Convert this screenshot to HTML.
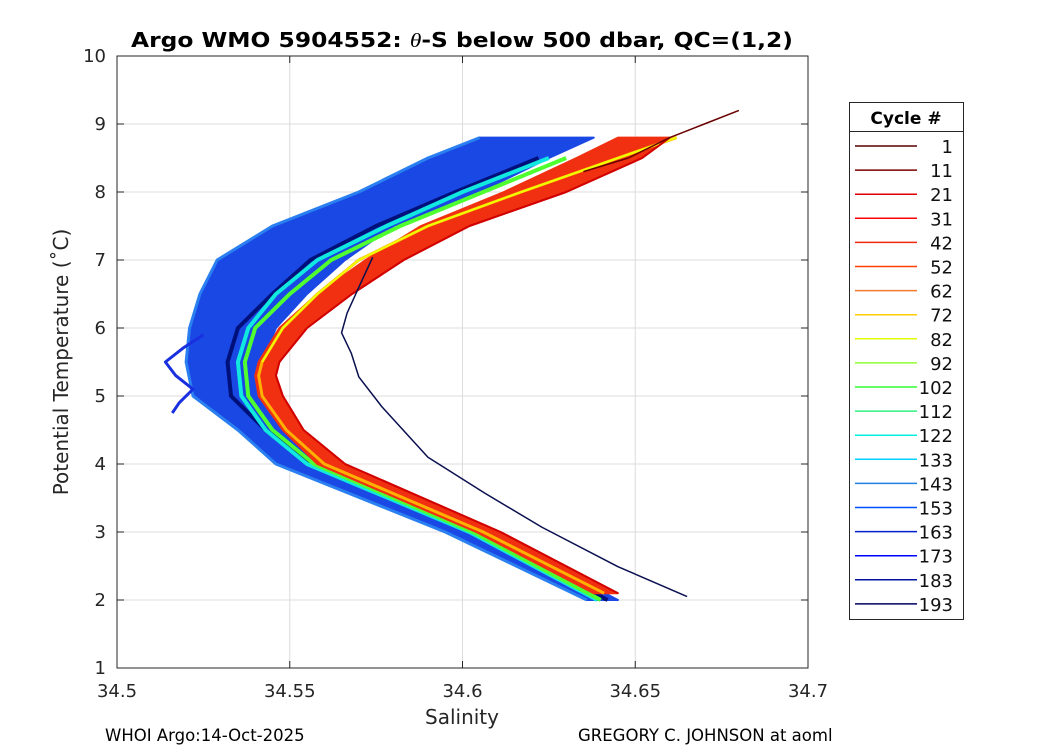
<!DOCTYPE html>
<html><head><meta charset="utf-8"><style>
body{margin:0;background:#fff;}
svg{display:block;font-family:"DejaVu Sans","Liberation Sans",sans-serif;}
</style></head><body>
<svg id="chart" width="1050" height="750" viewBox="0 0 1050 750">
<rect x="0" y="0" width="1050" height="750" fill="#fff"/>
<g id="grid"></g>
<g id="marks"></g>
<rect x="117" y="56" width="691" height="612" fill="none" stroke="#262626" stroke-width="1"/>
<g id="ticks"></g>
<text x="462" y="47" text-anchor="middle" font-size="20" font-weight="bold" textLength="662" lengthAdjust="spacingAndGlyphs">Argo WMO 5904552: <tspan font-style="italic" font-weight="normal" font-family="Liberation Serif,serif">θ</tspan>-S below 500 dbar,  QC=(1,2)</text>
<text x="462" y="724" text-anchor="middle" font-size="20" fill="#262626">Salinity</text>
<text transform="translate(68,362) rotate(-90)" text-anchor="middle" font-size="20" fill="#262626">Potential Temperature (˚C)</text>
<text x="105" y="741" font-size="16.5">WHOI Argo:14-Oct-2025</text>
<text x="578" y="741" font-size="16.5">GREGORY C. JOHNSON at aoml</text>
<g id="legend"></g>
</svg>
<script>
const xTicks=[34.5,34.55,34.6,34.65,34.7];
const yTicks=[1,2,3,4,5,6,7,8,9,10];
const bandT=[2,3,4,4.5,5,5.5,6,6.5,7,7.5,8,8.5,8.8];
const blueLeft=[34.636,34.595,34.546,34.535,34.522,34.520,34.521,34.524,34.529,34.545,34.570,34.590,34.605];
const blueRight=[34.645,34.607,34.560,34.549,34.542,34.542,34.546,34.555,34.566,34.580,34.605,34.625,34.638];
const redT=[2.1,3,4,4.5,5,5.3,5.5,6,6.5,7,7.5,8,8.5,8.8];
const redLeft=[34.638,34.604,34.558,34.548,34.541,34.540,34.541,34.547,34.558,34.572,34.588,34.612,34.633,34.645];
const redRight=[34.645,34.611,34.566,34.554,34.548,34.546,34.547,34.555,34.568,34.583,34.602,34.630,34.652,34.660];
const yellowS=[34.641,34.606,34.560,34.549,34.542,34.541,34.542,34.548,34.558,34.570,34.590,34.617,34.645,34.662];
const greenT=[2,3,4,4.5,5,5.5,6,6.5,7,7.5,8,8.5];
const greenS=[34.640,34.603,34.557,34.545,34.538,34.537,34.540,34.550,34.562,34.582,34.606,34.630];
const cyanS=[34.639,34.602,34.555,34.543,34.536,34.535,34.538,34.546,34.558,34.578,34.600,34.625];
const navyS=[34.642,34.604,34.556,34.543,34.533,34.532,34.535,34.545,34.556,34.575,34.598,34.622];
const darkRedT=[8.3,8.5,8.8,9.0,9.2];
const darkRedS=[34.635,34.648,34.660,34.670,34.680];
const outlierT=[7.04,6.6,6.22,5.93,5.63,5.28,4.84,4.10,3.57,3.07,2.49,2.05];
const outlierS=[34.574,34.570,34.5666,34.565,34.5678,34.570,34.5767,34.590,34.6065,34.623,34.645,34.665];
const scribT=[5.9,5.7,5.5,5.3,5.1,4.9,4.75];
const scribS=[34.525,34.519,34.514,34.517,34.522,34.518,34.516];
const legendLabels=["1","11","21","31","42","52","62","72","82","92","102","112","122","133","143","153","163","173","183","193"];
const legendColors=["#5a0000","#7a0000","#e00000","#ff0000","#f02a10","#ff4000","#f07a30","#ffcc00","#e0ff00","#90ff30","#30ff30","#30f080","#00f0e0","#00d0ff","#2080e0","#0050ff","#0020d0","#0000ff","#0010a0","#000060"];
const NS="http://www.w3.org/2000/svg";
const sx=s=>117+(s-34.5)/0.2*691;
const ty=t=>668-(t-1)*68;
function mk(tag,attrs,parent){const e=document.createElementNS(NS,tag);for(const k in attrs)e.setAttribute(k,attrs[k]);parent.appendChild(e);return e;}
const grid=document.getElementById('grid'),ticks=document.getElementById('ticks'),marks=document.getElementById('marks'),leg=document.getElementById('legend');
xTicks.forEach(v=>{
 const l=mk('line',{x1:sx(v),x2:sx(v),y1:56,y2:668,stroke:'#dcdcdc','stroke-width':1},grid);
 
 
 mk('line',{x1:sx(v),x2:sx(v),y1:668,y2:661,stroke:'#262626'},ticks);
 mk('line',{x1:sx(v),x2:sx(v),y1:56,y2:63,stroke:'#262626'},ticks);
 const t=mk('text',{x:sx(v),y:697,'text-anchor':'middle','font-size':18,fill:'#262626'},ticks);
 t.textContent=v.toString();
 
 
});
yTicks.forEach(v=>{
 const l=mk('line',{x1:117,x2:808,y1:ty(v),y2:ty(v),stroke:'#dcdcdc','stroke-width':1},grid);
 
 
 mk('line',{x1:117,x2:124,y1:ty(v),y2:ty(v),stroke:'#262626'},ticks);
 mk('line',{x1:808,x2:801,y1:ty(v),y2:ty(v),stroke:'#262626'},ticks);
 const t=mk('text',{x:106,y:ty(v)+6,'text-anchor':'end','font-size':18,fill:'#262626'},ticks);
 t.textContent=v;
 
 
});
function band(T,L,R,color,name){
 let pts=T.map((t,i)=>sx(L[i])+','+ty(t));
 for(let i=T.length-1;i>=0;i--)pts.push(sx(R[i])+','+ty(T[i]));
 const p=mk('polygon',{points:pts.join(' '),fill:color,stroke:color,'stroke-width':2,'stroke-linejoin':'round'},marks);
 
 
}
function line(T,S,color,w,name){
 const p=mk('polyline',{points:T.map((t,i)=>sx(S[i])+','+ty(t)).join(' '),fill:'none',stroke:color,'stroke-width':w,'stroke-linejoin':'round'},marks);
 
 
}
band(bandT,blueLeft,blueRight,'#1a48e4','blue-cycles-band');
line(bandT,blueLeft,'#2a80f0',3,'light-blue-edge');
line(scribT,scribS,'#1830e0',3,'blue-scribble-profile');
line(greenT,navyS,'#00107a',4,'navy-profiles');
line(greenT,cyanS,'#10e8e0',4,'cyan-profiles');
line(greenT,greenS,'#50ff30',4,'green-profiles');
band(redT,redLeft,redRight,'#f03010','red-cycles-band');
line(redT,yellowS,'#ffb000',3,'orange-profiles');
line(redT.slice(6),yellowS.slice(6),'#f0ff00',2,'yellow-profiles');
line(redT,redRight,'#d00000',2,'red-edge');
line(darkRedT,darkRedS,'#6a0000',1.5,'dark-red-profile');
line(outlierT,outlierS,'#0a1050',1.5,'outlier-profile');
const box=mk('rect',{x:849.5,y:102.5,width:114,height:517,fill:'#fff',stroke:'#262626'},leg);


mk('line',{x1:849.5,x2:963.5,y1:131.5,y2:131.5,stroke:'#262626'},leg);
const lt=mk('text',{x:906,y:124,'text-anchor':'middle','font-size':17,'font-weight':'bold'},leg);
lt.textContent='Cycle #';


legendLabels.forEach((lab,i)=>{
 const y=146+i*24.1;
 const g=mk('g',{},leg);
 
 
 mk('line',{x1:855,x2:917,y1:y,y2:y,stroke:legendColors[i],'stroke-width':1.5},g);
 const t=mk('text',{x:953,y:y+7,'text-anchor':'end','font-size':18,fill:'#111'},g);
 t.textContent=lab;
});
</script>
</body></html>
